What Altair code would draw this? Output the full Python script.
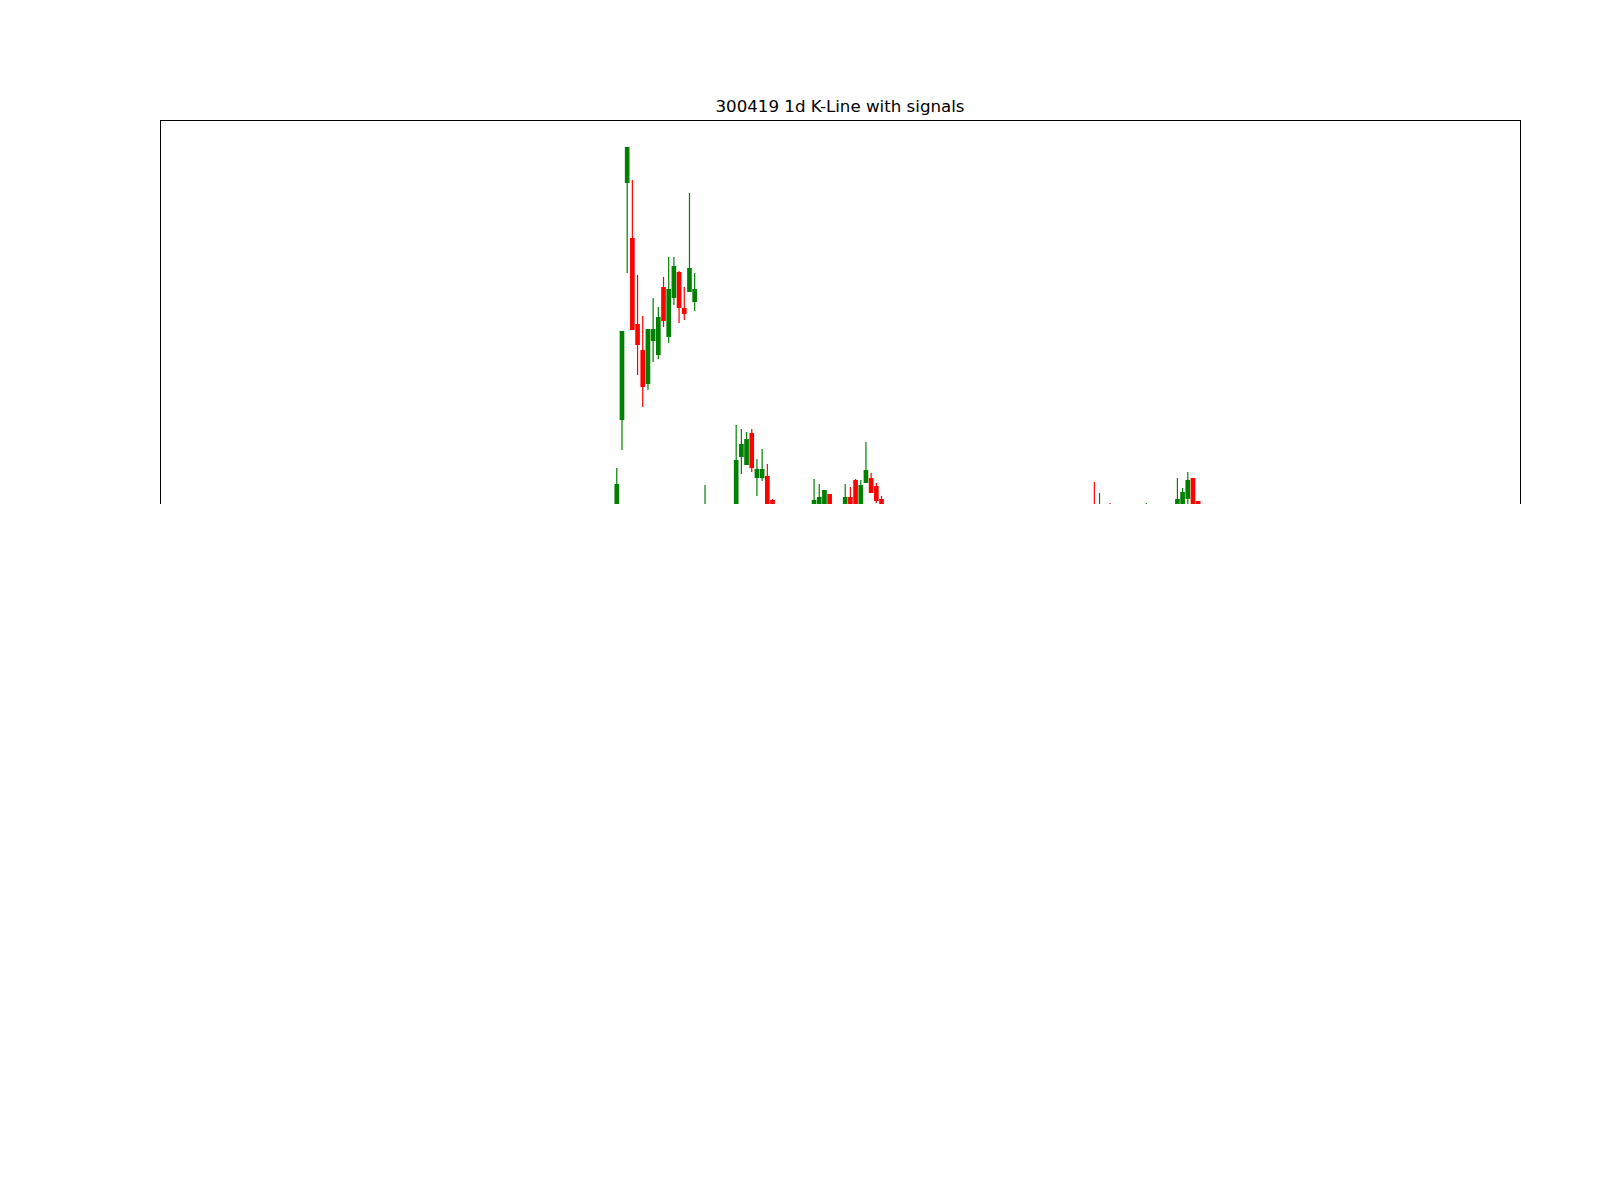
import altair as alt
import pandas as pd

TITLE = "300419 1d K-Line with signals"

# candle index (trading-day position) and OHLC prices
idx = [0, 1, 2, 3, 4, 5, 6, 7, 8, 9, 10, 11, 12, 13, 14, 15, 17,
       23, 24, 25, 26, 27, 28, 29, 30,
       38, 39, 40, 41, 44, 45, 46, 47, 48, 49, 50, 51,
       92, 93, 95, 102, 108, 109, 110, 111, 112]
open_ = [27.5, 33.0, 44.85, 42.1, 37.8, 36.5, 34.8, 36.95, 36.25, 39.65, 37.15, 39.1, 40.4, 38.6, 39.4, 38.9, 27.0,
         28.0, 31.15, 30.75, 32.35, 30.1, 30.1, 30.2, 29.0,
         28.3, 28.4, 28.5, 29.3, 28.4, 29.15, 30.0, 28.6, 29.85, 30.1, 29.7, 29.05,
         28.5, 28.2, 28.6, 28.3, 28.5, 28.6, 29.05, 30.1, 28.95]
high = [30.6, 37.45, 46.65, 45.0, 40.25, 38.2, 37.55, 39.1, 38.65, 40.15, 41.15, 41.15, 40.45, 39.65, 44.35, 40.35, 29.75,
        32.75, 32.55, 32.4, 32.55, 31.05, 31.55, 30.8, 29.05,
        30.05, 29.8, 29.5, 29.3, 29.8, 29.65, 30.05, 30.0, 31.9, 30.35, 29.85, 29.2,
        29.9, 29.35, 28.85, 28.85, 30.1, 29.6, 30.4, 30.1, 28.95]
low = [27.0, 31.5, 40.35, 37.5, 35.25, 33.65, 34.5, 35.9, 36.05, 37.65, 36.85, 38.75, 37.85, 38.0, 39.4, 38.45, 26.5,
       27.6, 30.3, 30.75, 30.4, 29.2, 29.95, 28.2, 28.2,
       28.0, 28.2, 28.3, 28.3, 28.2, 28.3, 28.4, 28.4, 29.85, 29.35, 28.85, 28.4,
       28.0, 28.0, 28.3, 28.2, 28.4, 28.5, 28.75, 28.4, 28.2]
close = [29.8, 37.45, 46.65, 37.5, 36.75, 34.65, 37.55, 37.55, 38.15, 37.95, 39.55, 40.7, 38.6, 38.3, 40.6, 39.55, 28.0,
         31.0, 31.8, 32.05, 30.6, 30.55, 30.55, 28.5, 28.4,
         29.0, 29.15, 29.5, 28.5, 29.15, 28.5, 28.6, 29.75, 30.5, 29.35, 28.95, 28.6,
         28.2, 28.5, 28.4, 28.6, 29.05, 29.4, 30.0, 28.6, 28.3]

X_DOMAIN = [-88, 174]
Y_DOMAIN = [28.8, 48.0]
W, H = 1360, 384

df = pd.DataFrame({"idx": idx, "open": open_, "high": high, "low": low, "close": close})
df["dir"] = ["up" if c >= o else "down" for o, c in zip(df["open"], df["close"])]
df["x0"] = df["idx"] - 0.45
df["x1"] = df["idx"] + 0.45

xs = alt.Scale(domain=X_DOMAIN, nice=False, zero=False)
ys = alt.Scale(domain=Y_DOMAIN, nice=False, zero=False)
cs = alt.Scale(domain=["up", "down"], range=["green", "red"])

base = alt.Chart(df)

wicks = base.mark_rule(strokeWidth=1.2, clip=True).encode(
    x=alt.X("idx:Q", scale=xs, axis=None),
    y=alt.Y("low:Q", scale=ys, axis=None),
    y2="high:Q",
    color=alt.Color("dir:N", scale=cs, legend=None),
)

bodies = base.mark_bar(clip=True).encode(
    x=alt.X("x0:Q", scale=xs, axis=None),
    x2="x1:Q",
    y=alt.Y("open:Q", scale=ys, axis=None),
    y2="close:Q",
    color=alt.Color("dir:N", scale=cs, legend=None),
)

frame_data = pd.DataFrame({"k": [0]})
fb = alt.Chart(frame_data)
top_line = fb.mark_rule(color="black", strokeWidth=1).encode(
    x=alt.value(0), x2=alt.value(W + 1), y=alt.value(0.5))
left_line = fb.mark_rule(color="black", strokeWidth=1).encode(
    x=alt.value(0.5), y=alt.value(0), y2=alt.value(H))
right_line = fb.mark_rule(color="black", strokeWidth=1).encode(
    x=alt.value(W + 0.5), y=alt.value(0), y2=alt.value(H))

title_text = alt.Chart(pd.DataFrame({"t": [TITLE]})).mark_text(
    font="DejaVu Sans", fontSize=16.67, color="black", align="center",
    baseline="alphabetic",
).encode(text="t:N", x=alt.value(W / 2), y=alt.value(-8.5))

chart = alt.layer(wicks, bodies, top_line, left_line, right_line, title_text).properties(
    width=W,
    height=H,
    autosize=alt.AutoSizeParams(type="none"),
    padding={"left": 152, "top": 112, "right": 72, "bottom": 688},
    background="white",
).configure_view(strokeWidth=0)

chart.save("out.html", embed_options={"renderer": "svg", "actions": False})
